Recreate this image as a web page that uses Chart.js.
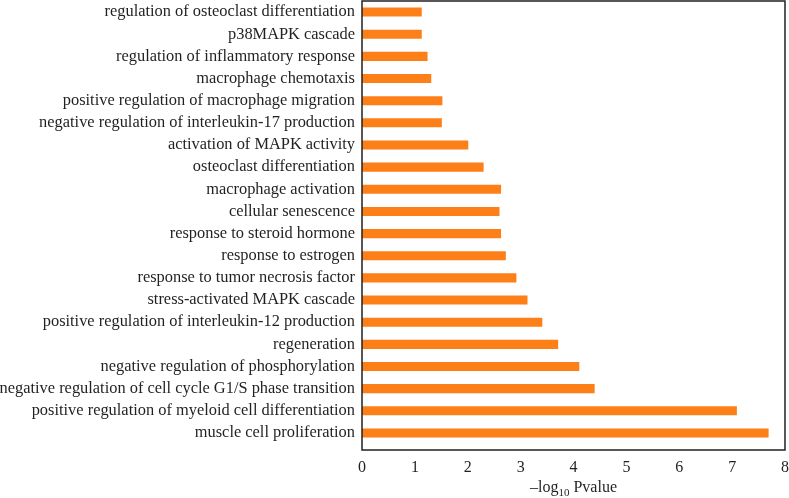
<!DOCTYPE html>
<html>
<head>
<meta charset="utf-8">
<script src="https://cdn.jsdelivr.net/npm/chart.js@4.4.0/dist/chart.umd.min.js"></script>
<style>
  html, body { margin: 0; padding: 0; background: #fff; }
  #wrap { width: 789px; height: 498px; }
</style>
</head>
<body>
<div id="wrap"><canvas id="myChart"></canvas></div>
<script>
let terms = [
    'regulation of osteoclast differentiation',
    'p38MAPK cascade',
    'regulation of inflammatory response',
    'macrophage chemotaxis',
    'positive regulation of macrophage migration',
    'negative regulation of interleukin-17 production',
    'activation of MAPK activity',
    'osteoclast differentiation',
    'macrophage activation',
    'cellular senescence',
    'response to steroid hormone',
    'response to estrogen',
    'response to tumor necrosis factor',
    'stress-activated MAPK cascade',
    'positive regulation of interleukin-12 production',
    'regeneration',
    'negative regulation of phosphorylation',
    'negative regulation of cell cycle G1/S phase transition',
    'positive regulation of myeloid cell differentiation',
    'muscle cell proliferation'
]
let logP = [1.13, 1.13, 1.24, 1.31, 1.52, 1.51, 2.01, 2.30, 2.63, 2.60,
            2.63, 2.72, 2.92, 3.13, 3.41, 3.71, 4.11, 4.40, 7.09, 7.69]
let xTicks = [0, 1, 2, 3, 4, 5, 6, 7, 8]

const serif = '"Liberation Serif", "DejaVu Serif", serif'
const ink = '#231f20'

// box round the plot and the axis title with its subscript
const frame = {
    id: 'frame',
    afterDraw(chart) {
        const ctx = chart.ctx
        const a = chart.chartArea
        ctx.save()
        ctx.strokeStyle = ink
        ctx.lineWidth = 1.5
        ctx.strokeRect(a.left, a.top, a.right - a.left, a.bottom - a.top)

        let main = '\u2013log'
        let sub = '10'
        let rest = ' Pvalue'
        ctx.fillStyle = ink
        ctx.textBaseline = 'alphabetic'
        ctx.font = '16px ' + serif
        let w1 = ctx.measureText(main).width
        let w3 = ctx.measureText(rest).width
        ctx.font = '11px ' + serif
        let w2 = ctx.measureText(sub).width
        let cx = (a.left + a.right) / 2
        let x = cx - (w1 + w2 + w3) / 2
        let y = 492
        ctx.font = '16px ' + serif
        ctx.fillText(main, x, y)
        ctx.font = '11px ' + serif
        ctx.fillText(sub, x + w1, y + 4)
        ctx.font = '16px ' + serif
        ctx.fillText(rest, x + w1 + w2, y)
        ctx.restore()
    }
}

new Chart(document.getElementById('myChart'), {
    type: 'bar',
    data: {
        labels: terms,
        datasets: [{
            data: logP,
            backgroundColor: '#fc7f18',
            barPercentage: 0.41,
            categoryPercentage: 1.0
        }]
    },
    options: {
        indexAxis: 'y',
        responsive: true,
        maintainAspectRatio: false,
        animation: false,
        layout: { padding: { top: 1, right: 4, left: 0, bottom: 0 } },
        plugins: {
            legend: { display: false },
            tooltip: { enabled: false }
        },
        scales: {
            x: {
                min: 0,
                max: 8,
                afterBuildTicks: (axis) => { axis.ticks = xTicks.map(v => ({ value: v })) },
                afterFit: (axis) => {
                    axis.height = 48
                    axis.paddingLeft = 0
                    axis.paddingRight = 0
                },
                grid: { display: false, drawTicks: false },
                border: { display: false },
                ticks: {
                    color: ink,
                    padding: 8,
                    maxRotation: 0,
                    font: { family: serif, size: 16 }
                }
            },
            y: {
                // leave a little more room under the last bar, like the original
                afterBuildTicks: (axis) => { axis._valueRange = terms.length + 0.27 },
                afterFit: (axis) => {
                    axis.width = 362
                    axis.paddingTop = 0
                    axis.paddingBottom = 0
                },
                grid: { display: false, drawTicks: false },
                border: { display: false },
                ticks: {
                    color: ink,
                    padding: 7,
                    autoSkip: false,
                    font: { family: serif, size: 16.4 }
                }
            }
        }
    },
    plugins: [frame]
})
</script>
</body>
</html>
